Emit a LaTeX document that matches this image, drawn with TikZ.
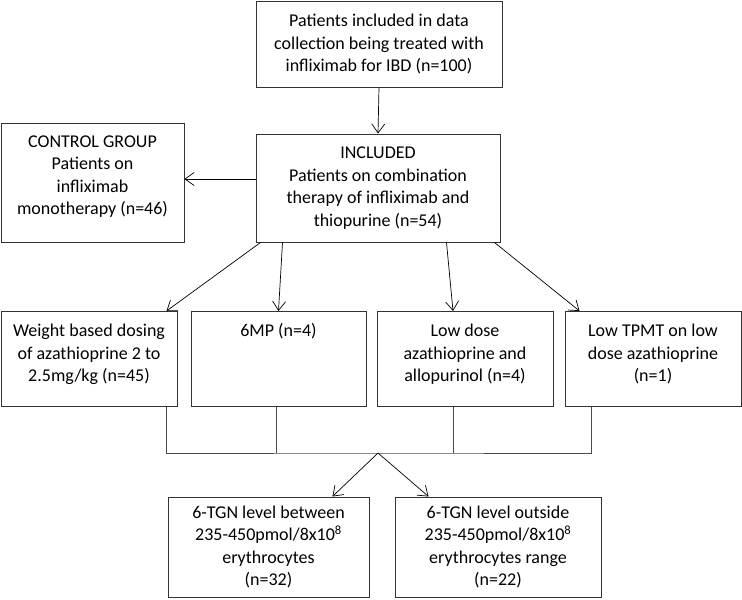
\documentclass[tikz,border=0pt]{standalone}
\usepackage{fontspec}
\setmainfont{Carlito}
\usetikzlibrary{arrows.meta,calc}
\definecolor{boxline}{HTML}{333333}
\definecolor{joinline}{HTML}{4A4A4A}

\begin{document}
\begin{tikzpicture}[x=1pt,y=-1pt,
 box/.style={draw=boxline,line width=1pt,align=center,inner sep=0pt,
   font=\fontsize{18}{22.5}\selectfont},
 rowbox/.style={box,minimum width=176pt,text height=70pt,text depth=25pt,anchor=north},
 a/.style={-{Straight Barb[length=9pt,width=13pt]},line width=0.7pt},
 j/.style={line width=0.8pt,joinline}]
\useasboundingbox (0,0) rectangle (742,600);
% top of the flow
\node[box,minimum width=246pt,minimum height=86pt] (data) at (379,44)
  {Patients included in data\\collection being treated with\\infliximab for IBD (n=100)};
\node[box,minimum width=244pt,minimum height=108pt] (incl) at (378,188)
  {INCLUDED\\Patients on combination\\therapy of infliximab and\\thiopurine (n=54)};
\node[box,minimum width=183pt,text height=91pt,text depth=28pt,anchor=north] (ctrl) at (92.5,123)
  {CONTROL GROUP\\Patients on\\infliximab\\monotherapy (n=46)};
\draw[a] (data.south) -- (incl.north);
\draw[a] ([yshift=9pt]incl.west) -- ([yshift=9pt]incl.west -| ctrl.east);
% dosing groups
\node[rowbox] (b1) at (89,311)
  {Weight based dosing\\of azathioprine 2 to\\2.5mg/kg (n=45)};
\node[rowbox,minimum width=175pt,text height=25pt,text depth=70pt] (b2) at (278.5,311)
  {6MP (n=4)};
\node[rowbox] (b3) at (465,311)
  {Low dose\\azathioprine and\\allopurinol (n=4)};
\node[rowbox] (b4) at (653,311)
  {Low TPMT on low\\dose azathioprine\\(n=1)};
\draw[a] ([xshift=5pt]incl.south west) -- ([xshift=-11pt]b1.north east);
\draw[a] ([xshift=27pt]incl.south west) -- (b2.north);
\draw[a] ([xshift=191pt]incl.south west) -- ([xshift=-12pt]b3.north);
\draw[a] ([xshift=-6pt]incl.south east) -- ([xshift=15pt]b4.north west);
% 6-TGN levels
\coordinate (hub) at (378,453);
\draw[j] ([xshift=-11pt]b1.south east) |- (hub) -| ([xshift=27pt]b4.south west);
\draw[j] ([xshift=-2pt]b2.south) -- ([xshift=-2pt]b2.south |- hub);
\draw[j] ([xshift=-12pt]b3.south) -- ([xshift=-12pt]b3.south |- hub);
\node[box,minimum width=201pt,minimum height=100pt] (lo1) at (268.5,547)
  {6-TGN level between\\235-450pmol/8x10\textsuperscript{8}\\erythrocytes\\(n=32)};
\node[box,minimum width=206pt,minimum height=100pt] (lo2) at (498,547)
  {6-TGN level outside\\235-450pmol/8x10\textsuperscript{8}\\erythrocytes range\\(n=22)};
\draw[a] (hub) -- ([xshift=-37pt]lo1.north east);
\draw[a] (hub) -- ([xshift=34pt]lo2.north west);
\end{tikzpicture}
\end{document}
